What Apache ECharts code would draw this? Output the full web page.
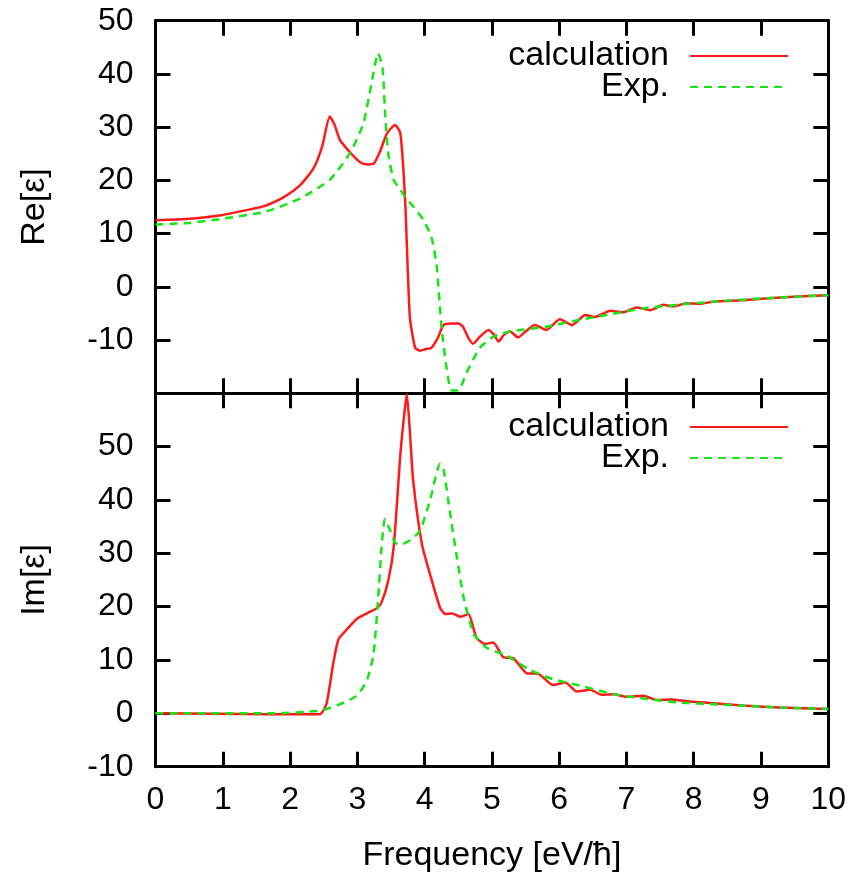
<!DOCTYPE html>
<html>
<head>
<meta charset="utf-8">
<script src="https://cdn.jsdelivr.net/npm/echarts@6/dist/echarts.min.js"></script>
<style>
  html, body { margin: 0; padding: 0; background: #fff; }
  #chart { width: 864px; height: 876px; }
</style>
</head>
<body>
<div id="chart"></div>
<script>
// Re[eps] panel
var reCalcX = [0.0, 0.5, 1.0, 1.5, 1.63, 1.9, 2.15, 2.35, 2.48, 2.59, 2.66, 2.74, 2.84, 2.94, 3.04, 3.15, 3.24, 3.34, 3.44, 3.56, 3.64, 3.71, 3.78, 3.86, 3.93, 4.02, 4.10, 4.20, 4.28, 4.40, 4.50, 4.57, 4.65, 4.72, 4.82, 4.95, 5.03, 5.10, 5.18, 5.27, 5.39, 5.50, 5.64, 5.81, 6.01, 6.19, 6.39, 6.53, 6.76, 6.95, 7.15, 7.35, 7.55, 7.70, 7.89, 8.09, 8.29, 8.79, 9.28, 10.0];
var reCalcY = [12.5, 12.8, 13.5, 14.8, 15.2, 16.8, 19.1, 22.3, 26.5, 32.0, 30.5, 27.6, 26.0, 24.6, 23.4, 23.0, 23.1, 25.5, 28.8, 30.4, 28.8, 16.3, -5.6, -11.5, -12.0, -11.7, -11.5, -9.5, -7.2, -6.9, -6.9, -7.5, -9.6, -10.7, -9.4, -8.1, -9.0, -10.3, -9.0, -8.4, -9.5, -8.4, -7.2, -8.1, -6.1, -7.2, -5.3, -5.7, -4.5, -4.8, -3.9, -4.4, -3.4, -3.7, -3.1, -3.2, -2.8, -2.5, -2.0, -1.6];
var reExpX = [0.0, 0.5, 1.0, 1.63, 2.15, 2.59, 2.89, 3.09, 3.21, 3.31, 3.36, 3.38, 3.42, 3.46, 3.54, 3.64, 3.71, 3.85, 3.98, 4.10, 4.18, 4.25, 4.33, 4.40, 4.50, 4.62, 4.82, 5.02, 5.27, 5.81, 6.31, 7.30, 8.29, 9.28, 10.0];
var reExpY = [11.7, 12.0, 12.8, 14.1, 16.6, 20.1, 25.1, 30.7, 38.2, 43.9, 42.0, 40.5, 31.0, 25.0, 20.1, 18.2, 16.9, 14.8, 12.6, 9.4, 3.8, -7.5, -15.6, -19.5, -19.5, -16.2, -11.5, -9.4, -8.4, -7.5, -6.2, -4.0, -2.8, -2.0, -1.6];

// Im[eps] panel
var imCalcX = [0.0, 1.65, 2.44, 2.54, 2.64, 2.72, 2.85, 2.99, 3.15, 3.29, 3.36, 3.46, 3.54, 3.64, 3.70, 3.735, 3.78, 3.83, 3.96, 4.08, 4.23, 4.31, 4.41, 4.53, 4.65, 4.77, 4.90, 5.02, 5.17, 5.32, 5.52, 5.69, 5.91, 6.09, 6.26, 6.46, 6.63, 6.81, 7.00, 7.25, 7.45, 7.65, 7.95, 8.29, 8.79, 9.28, 10.0];
var imCalcY = [0.0, -0.15, -0.15, 1.7, 9.2, 13.9, 15.8, 17.7, 18.8, 19.7, 20.8, 24.9, 31.1, 48.6, 56.4, 59.8, 53.0, 43.6, 31.7, 26.1, 19.8, 18.6, 18.7, 18.1, 18.6, 14.2, 13.0, 13.3, 10.5, 10.3, 7.5, 7.4, 5.3, 5.8, 4.1, 4.4, 3.5, 3.6, 3.1, 3.3, 2.5, 2.6, 2.2, 1.9, 1.4, 1.1, 0.8];
var imExpX = [0.0, 1.65, 2.44, 2.74, 2.99, 3.14, 3.24, 3.31, 3.36, 3.41, 3.49, 3.56, 3.64, 3.79, 3.93, 4.08, 4.23, 4.28, 4.38, 4.48, 4.58, 4.73, 4.92, 5.22, 5.57, 5.91, 6.31, 6.81, 7.30, 7.80, 8.29, 8.79, 9.28, 10.0];
var imExpY = [0.0, 0.0, 0.5, 1.7, 3.3, 6.1, 11.1, 21.7, 31.1, 36.4, 34.2, 32.0, 31.6, 32.5, 34.2, 39.9, 46.8, 45.8, 37.4, 29.2, 21.7, 14.9, 12.3, 10.8, 8.1, 6.4, 5.2, 3.6, 2.7, 2.0, 1.7, 1.4, 1.1, 0.8];

var seriesNames = ['calculation', 'Exp.'];

function pairs(xs, ys) {
    return xs.map(function (x, i) { return [x, ys[i]]; });
}

var FONT = 'Liberation Sans, Arial, sans-serif';
var black = '#000';
var red = '#ff1a1a';
var green = '#14e614';

function xAx(gridIndex, position, showLabels, name) {
    return {
        type: 'value', gridIndex: gridIndex, position: position,
        min: 0, max: 10, interval: 1,
        axisLine: { show: true, onZero: false, lineStyle: { color: black, width: 3 } },
        axisTick: { show: true, inside: true, length: 15, lineStyle: { color: black, width: 3 } },
        axisLabel: { show: showLabels, color: black, fontSize: 32, fontFamily: FONT, margin: 17 },
        splitLine: { show: false },
        name: name || '', nameLocation: 'middle', nameGap: 72,
        nameTextStyle: { color: black, fontSize: 34, fontFamily: FONT }
    };
}

function yAx(gridIndex, position, min, max, hide, name) {
    return {
        type: 'value', gridIndex: gridIndex, position: position,
        min: min, max: max, interval: 10,
        axisLine: { show: true, onZero: false, lineStyle: { color: black, width: 3 } },
        axisTick: { show: true, inside: true, length: 15, lineStyle: { color: black, width: 3 } },
        axisLabel: {
            show: position === 'left', color: black, fontSize: 32, fontFamily: FONT, margin: 22,
            formatter: function (v) { return v === hide ? '' : String(v); }
        },
        splitLine: { show: false },
        name: name || '', nameLocation: 'middle', nameGap: 104,
        nameTextStyle: { color: black, fontSize: 34, fontFamily: FONT }
    };
}

function legendAt(top) {
    return {
        data: seriesNames, orient: 'vertical', align: 'right',
        right: 70, top: top, itemWidth: 98, itemHeight: 14, itemGap: -3,
        selectedMode: false,
        itemStyle: { opacity: 0 },
        textStyle: { color: black, fontSize: 34, fontFamily: FONT, padding: [0, 16, 0, 0] }
    };
}

var chart = echarts.init(document.getElementById('chart'));
var option = {
    animation: false,
    backgroundColor: '#fff',
    grid: [
        { left: 155.5, right: 35.7, top: 20.7, height: 372.5 },
        { left: 155.5, right: 35.7, top: 393.2, height: 373.5 }
    ],
    legend: [legendAt(34), legendAt(405)],
    xAxis: [
        xAx(0, 'bottom', false),
        xAx(0, 'top', false),
        xAx(1, 'bottom', true, 'Frequency [eV/ħ]'),
        xAx(1, 'top', false)
    ],
    yAxis: [
        yAx(0, 'left', -20, 50, -20, 'Re[ε]'),
        yAx(0, 'right', -20, 50, -20),
        yAx(1, 'left', -10, 60, 60, 'Im[ε]'),
        yAx(1, 'right', -10, 60, 60)
    ],
    series: [
        {
            name: 'calculation', type: 'line', xAxisIndex: 0, yAxisIndex: 0,
            data: pairs(reCalcX, reCalcY), showSymbol: false, symbol: 'none',
            smooth: 0.2, clip: true,
            lineStyle: { color: red, width: 2.5 }, itemStyle: { color: red }
        },
        {
            name: 'Exp.', type: 'line', xAxisIndex: 0, yAxisIndex: 0,
            data: pairs(reExpX, reExpY), showSymbol: false, symbol: 'none',
            smooth: 0.2, clip: true,
            lineStyle: { color: green, width: 2.5, type: [8, 6] }, itemStyle: { color: green }
        },
        {
            name: 'calculation', type: 'line', xAxisIndex: 2, yAxisIndex: 2,
            data: pairs(imCalcX, imCalcY), showSymbol: false, symbol: 'none',
            smooth: 0.2, clip: true,
            lineStyle: { color: red, width: 2.5 }, itemStyle: { color: red }
        },
        {
            name: 'Exp.', type: 'line', xAxisIndex: 2, yAxisIndex: 2,
            data: pairs(imExpX, imExpY), showSymbol: false, symbol: 'none',
            smooth: 0.2, clip: true,
            lineStyle: { color: green, width: 2.5, type: [8, 6] }, itemStyle: { color: green }
        }
    ]
};
chart.setOption(option);
</script>
</body>
</html>
